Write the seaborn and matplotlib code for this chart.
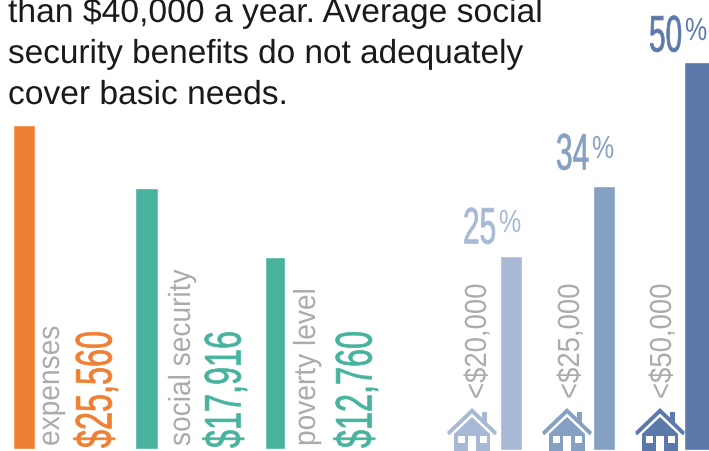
import numpy as np
import pandas as pd
import seaborn as sns
import matplotlib
matplotlib.use('Agg')
import matplotlib.pyplot as plt
from matplotlib.patheffects import AbstractPathEffect
from matplotlib.transforms import Affine2D
from matplotlib.patches import Polygon, Rectangle

# data
cost_labels = ['expenses', 'social security', 'poverty level']
cost_values = [25560, 17916, 12760]
# the left bars are not drawn to scale with their labels
cost_heights = [324, 261, 192]
income_labels = ['<$20,000', '<$25,000', '<$50,000']
income_shares = [25, 34, 50]
body_lines = ['than $40,000 a year. Average social',
              'security benefits do not adequately',
              'cover basic needs.']

# layout, in pixels of the 709x452 picture
W, H = 709, 452
cost_x = [24, 146.5, 275]
cost_w = [22, 23, 20]
income_x = [511, 604, 698]
income_w = [22, 22, 28]
cost_colors = ['#EE7F33', '#47B39F', '#47B39F']
income_colors = ['#A7B9D4', '#86A0C3', '#5B79AA']
GREY = '#ABABAB'


class Squeeze(AbstractPathEffect):
    # narrows text along one direction, there is no condensed font here
    def __init__(self, sx, sy, px, py, stroke=0):
        super().__init__()
        self.t = Affine2D().translate(-px, -py).scale(sx, sy).translate(px, py)
        self.stroke = stroke

    def draw_path(self, renderer, gc, tpath, affine, rgbFace=None):
        gc0 = renderer.new_gc()
        gc0.copy_properties(gc)
        gc0.set_foreground(rgbFace)
        gc0.set_linewidth(self.stroke)
        renderer.draw_path(gc0, tpath, affine + self.t, rgbFace)
        gc0.restore()


sns.set_style('white')
plt.rcParams['font.family'] = ['Liberation Sans', 'DejaVu Sans']
fig = plt.figure(figsize=(W / 100, H / 100), dpi=100)

ax1 = fig.add_axes([0, 0, 1, 1])
for x, w, v, c in zip(cost_x, cost_w, cost_heights, cost_colors):
    sns.barplot(x=[x], y=[v], width=w, color=c, saturation=1, native_scale=True, ax=ax1)
ax1.set_xlim(0, W)
ax1.set_ylim(-2, 450)
ax1.axis('off')

ax2 = fig.add_axes([0, 0, 1, 1])
ax2.patch.set_alpha(0)
for x, w, v, c in zip(income_x, income_w, income_shares, income_colors):
    sns.barplot(x=[x], y=[v], width=w, color=c, saturation=1, native_scale=True, ax=ax2)
ax2.set_xlim(0, W)
ax2.set_ylim(-1 / 7.76, 451 / 7.76)
ax2.axis('off')


def put(x, y, s, size, color, sx=1, sy=1, rotation=0, stroke=0):
    t = fig.text(x / W, 1 - y / H, s, fontsize=size, color=color, rotation=rotation,
                 ha='left', va='baseline', rotation_mode='anchor')
    t.set_path_effects([Squeeze(sx, sy, x, H - y, stroke)])
    return t


def house(ax, cx, color):
    # icon drawn in pixels around its centre line
    y = lambda v: H - v
    roof = [(-25, 433), (0, 409), (25, 433), (23, 436.5), (0, 414.5), (-23, 436.5)]
    ax.add_patch(Polygon([(cx + a, y(b)) for a, b in roof], color=color, lw=0))
    ax.add_patch(Rectangle((cx + 10, y(424)), 5, 11, color=color, lw=0))
    body = [(-18, 435), (0, 418), (18, 435), (18, 452), (-18, 452)]
    ax.add_patch(Polygon([(cx + a, y(b)) for a, b in body], color=color, lw=0))
    for a, b, w, h in [(-3.8, 452, 7.6, 15), (-14.5, 444, 7, 7.5), (7.5, 444, 7, 7.5)]:
        ax.add_patch(Rectangle((cx + a, y(b)), w, h, color='white', lw=0))


overlay = fig.add_axes([0, 0, 1, 1])
overlay.patch.set_alpha(0)
overlay.set_xlim(0, W)
overlay.set_ylim(0, H)
overlay.axis('off')
for cx, c in zip([472, 567, 660], income_colors):
    house(overlay, cx, c)

# body text
for y, line, sx in zip([23, 64, 105], body_lines, [1.01, 1, 1.007]):
    put(8, y, line, 24, '#1a1a1a', sx=sx)

# left side labels
for x, s in zip([59, 190, 315], cost_labels):
    put(x, 447, s, 22, GREY, sy=0.92, rotation=90)
for x, v, c in zip([112, 241, 372], cost_values, cost_colors):
    put(x - 0.5, 449, f'${v:,}', 37, c, sy=0.63, rotation=90, stroke=0.5)

# right side labels
for x, s in zip([486, 579, 671], income_labels):
    put(x, 400, s, 22, GREY, sy=0.9, rotation=90)
for x, y, v, c in zip([463, 556, 649], [245, 171, 53], income_shares, income_colors):
    put(x, y - 0.5, str(v), 37, c, sx=0.58, stroke=0.5)
    put(x + 36, y - 12, '%', 23, c, sx=0.78)

fig.savefig('out.png', dpi=100)
